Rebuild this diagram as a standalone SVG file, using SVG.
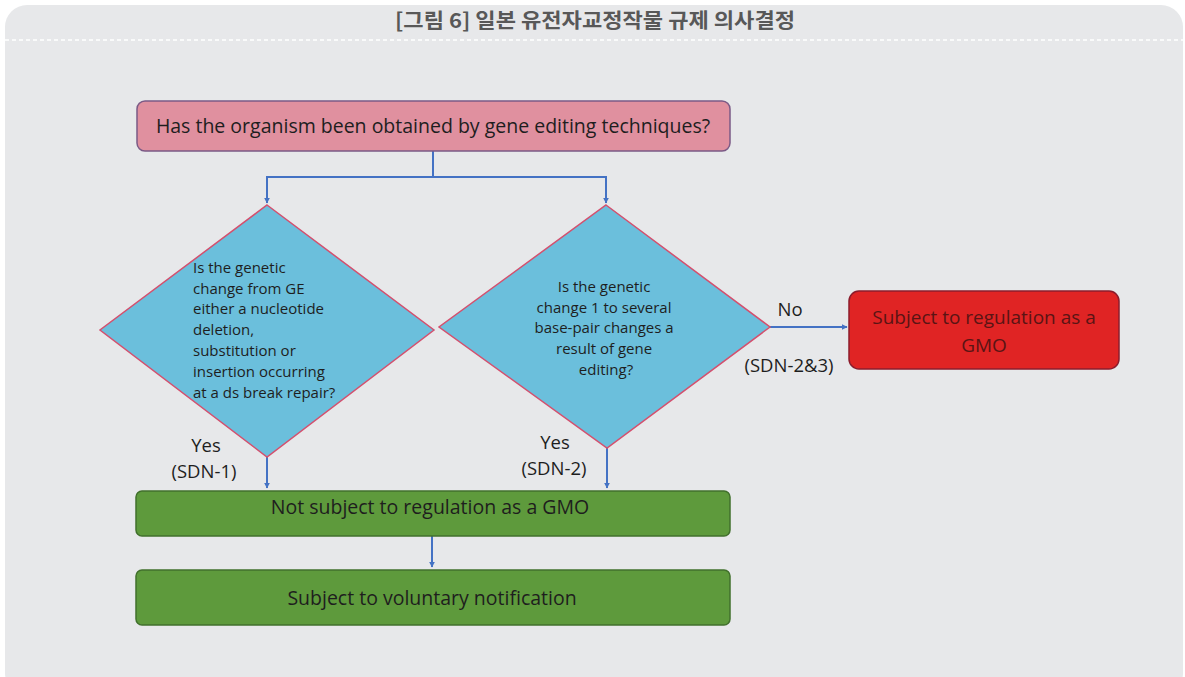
<svg xmlns="http://www.w3.org/2000/svg" width="1185" height="677" viewBox="0 0 1185 677">
<defs>
<marker id="ah" viewBox="0 0 10 10" refX="9" refY="5" markerWidth="6" markerHeight="6" markerUnits="userSpaceOnUse" orient="auto">
<path d="M0,0 L10,5 L0,10 z" fill="#4472c4"/>
</marker>
<style>
.t{font-family:"Open Sans","Liberation Sans",sans-serif;fill:#1e1e1e}
.dia{fill:#6bbfdc;stroke:#d4506e;stroke-width:1.5}
.green{fill:#5e9a3c;stroke:#41702c;stroke-width:1.5}
.con{fill:none;stroke:#4472c4;stroke-width:2}
.lbl{font-family:"Open Sans","Liberation Sans",sans-serif;fill:#1e1e1e;font-size:18.5px;text-anchor:middle}
.dt{font-family:"Open Sans","Liberation Sans",sans-serif;fill:#1e1e1e;font-size:15px}
</style>
</defs>
<rect x="0" y="0" width="1185" height="677" fill="#ffffff"/>
<rect x="5" y="5" width="1178" height="690" rx="22" fill="#e7e8ea"/>
<text x="595" y="28" text-anchor="middle" font-family="'Noto Sans CJK KR','Noto Sans',sans-serif" font-weight="bold" font-size="20.5" fill="#585858" textLength="400" lengthAdjust="spacingAndGlyphs">[그림 6] 일본 유전자교정작물 규제 의사결정</text>
<line x1="5" y1="40" x2="1183" y2="40" stroke="#ffffff" stroke-width="1.5" stroke-dasharray="4 3"/>

<g id="connectors">
<path class="con" d="M433,151 V177 H267 V203" marker-end="url(#ah)"/>
<path class="con" d="M433,177 H606 V203" marker-end="url(#ah)"/>
<path class="con" d="M770,327 H847" marker-end="url(#ah)"/>
<path class="con" d="M267,457 V488" marker-end="url(#ah)"/>
<path class="con" d="M607,448 V488" marker-end="url(#ah)"/>
<path class="con" d="M432,536 V567" marker-end="url(#ah)"/>
<text class="lbl" x="790" y="316">No</text>
<text class="lbl" x="789" y="372">(SDN-2&amp;3)</text>
<text class="lbl" x="206" y="452">Yes</text>
<text class="lbl" x="204" y="478">(SDN-1)</text>
<text class="lbl" x="555" y="449">Yes</text>
<text class="lbl" x="554" y="475">(SDN-2)</text>
</g>

<g id="start">
<rect x="137" y="101" width="593" height="50" rx="8" fill="#e0909f" stroke="#7b5a86" stroke-width="1.5"/>
<text class="t" x="433" y="133" font-size="19.5" text-anchor="middle">Has the organism been obtained by gene editing techniques?</text>
</g>

<g id="q1">
<polygon class="dia" points="267,205 434,330 267,457 100,330"/>
<text class="dt">
<tspan x="193" y="273">Is the genetic</tspan>
<tspan x="193" y="294">change from GE</tspan>
<tspan x="193" y="314">either a nucleotide</tspan>
<tspan x="193" y="335">deletion,</tspan>
<tspan x="193" y="356">substitution or</tspan>
<tspan x="193" y="377">insertion occurring</tspan>
<tspan x="193" y="398">at a ds break repair?</tspan>
</text>
</g>

<g id="q2">
<polygon class="dia" points="606,205 770,327 607,448 439,327"/>
<text class="dt" text-anchor="middle">
<tspan x="606" y="292">Is the genetic</tspan>
<tspan x="606" y="313">change 1 to several</tspan>
<tspan x="606" y="333">base-pair changes a</tspan>
<tspan x="606" y="354">result of gene</tspan>
<tspan x="606" y="375">editing?</tspan>
</text>
</g>

<g id="gmo">
<rect x="849" y="291" width="270" height="78" rx="10" fill="#e02424" stroke="#8c1c2c" stroke-width="1.5"/>
<text class="t" x="984" y="324" font-size="19" text-anchor="middle" style="fill:#5a1414">Subject to regulation as a</text>
<text class="t" x="984" y="352" font-size="19" text-anchor="middle" style="fill:#5a1414">GMO</text>
</g>

<g id="notgmo">
<rect class="green" x="136" y="491" width="594" height="45" rx="6"/>
<text class="t" x="430" y="514" font-size="19.5" text-anchor="middle">Not subject to regulation as a GMO</text>
</g>

<g id="voluntary">
<rect class="green" x="136" y="570" width="594" height="55" rx="6"/>
<text class="t" x="432" y="605" font-size="19.5" text-anchor="middle">Subject to voluntary notification</text>
</g>
</svg>
